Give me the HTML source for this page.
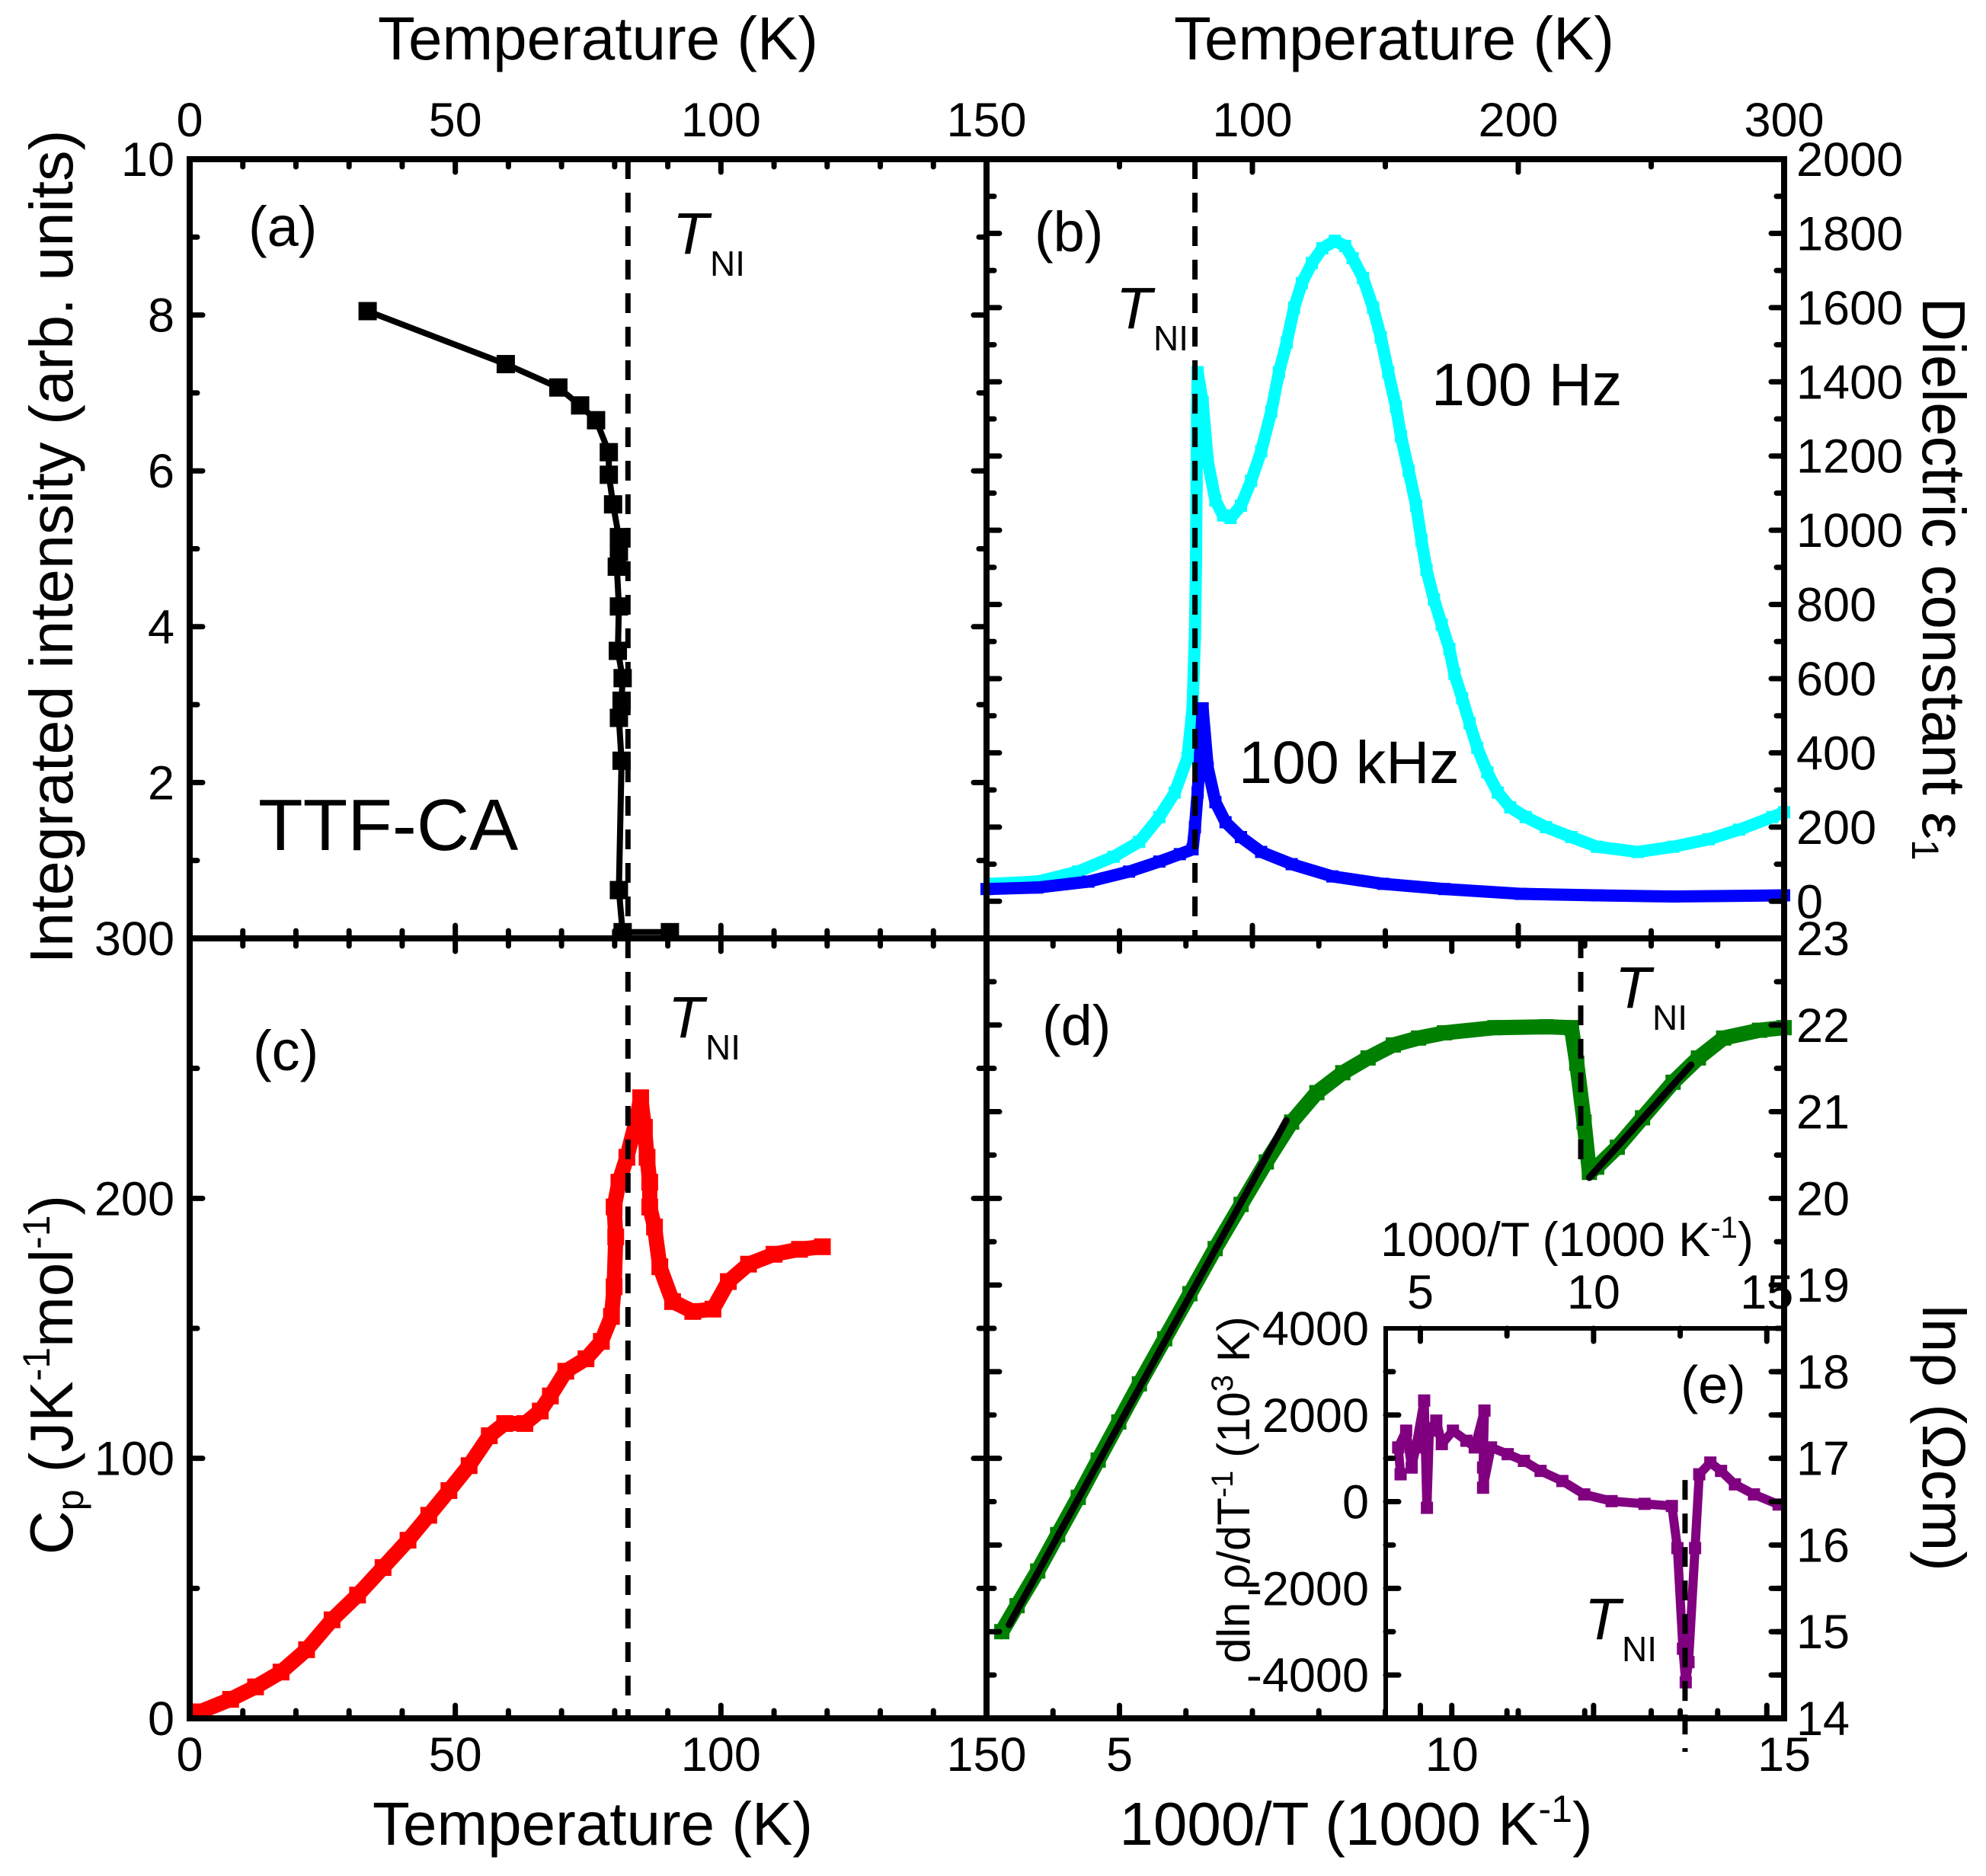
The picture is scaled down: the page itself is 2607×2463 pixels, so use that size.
<!DOCTYPE html>
<html><head><meta charset="utf-8"><style>
html,body{margin:0;padding:0;background:#fff}
svg{display:block}
text{font-family:"Liberation Sans",Arial,sans-serif;fill:#000}
</style></head><body>
<svg id="chart" xmlns="http://www.w3.org/2000/svg" width="2607" height="2463" viewBox="0 0 2607 2463">
<g id="marks"></g>
<g id="frames"></g>
<g id="labels"></g>
</svg>
<script>
// ---- Panel (a): integrated intensity vs T ----
const aT = [33.5,59.5,69.4,73.5,76.5,78.9,78.9,79.7,80.8,80.8,80.4,80.8,80.6,81.5,81.3,80.8,81.3,80.8,81.5,90.4];
const aI = [8.05,7.37,7.07,6.84,6.65,6.24,5.95,5.57,5.15,4.96,4.77,4.26,3.69,3.34,3.05,2.83,2.28,0.62,0.08,0.08];
// ---- Panel (b): dielectric constant vs T ----
const bHzT = [1.9,19.1,34.4,47.8,57.4,65,70.8,75.6,77.5,78.4,78.8,79,79.2,79.4,81.3,83.2,86.1,89,91.8,95.7,99.5,103.3,107.1,110,112.9,115.7,118.6,122.4,126.3,131,134.9,137.7,141.6,145.4,148.3,151.1,154,155.9,158.8,161.6,163.6,165.5,168.3,171.2,174.1,176,178.9,181.7,184.6,188.4,192.3,197,202.8,210.4,220,229.6,244.9,258.3,271.6,283.1,295.6,300];
const bHzE = [47,53,80,120,160,227,293,387,520,720,920,1120,1320,1426,1346,1186,1080,1040,1033,1066,1133,1213,1320,1426,1506,1600,1666,1720,1760,1780,1766,1733,1680,1600,1520,1426,1333,1253,1160,1066,973,893,813,746,680,613,547,480,413,347,293,253,227,200,173,147,133,147,167,193,227,240];
const bkHzT = [0,19.1,38.3,53.6,65,72.7,77.5,78.4,79.4,80.3,81.3,83.2,86.1,89.9,95.7,103.3,114.8,130.1,149.2,172.2,200.9,229.6,258.3,300];
const bkHzE = [33,37,53,80,107,127,140,200,293,387,520,360,267,213,173,133,100,67,47,33,20,16,13,16];
// ---- Panel (c): heat capacity ----
const cT = [1.9,7.7,12.4,17.2,22,26.8,31.6,36.4,41.1,45,48.8,52.6,56.4,59.3,63.1,66,67.9,70.8,74.6,77.5,79.4,79.9,80.2,79.9,80.8,82.3,84.2,84.9,85.6,86.1,86.6,86.6,87.5,88.5,90.9,94.7,98.5,101.4,105.2,110,114.8,119.1];
const cCp = [2.5,7.3,12.1,17.8,26.4,37.9,47.4,58,68.5,78.1,87.6,97.2,108.7,113.4,113.4,118.2,124,133.5,138.3,145,154.6,166,185.2,196.7,206.2,215.8,231.1,238.7,227.3,215.8,206.2,196.7,189,173.7,160.3,156.5,157.4,168,174.7,178.5,180.4,181.4];
// ---- Panel (d): ln rho vs 1000/T ----
const dX = [3.23,3.46,3.77,4.07,4.38,4.68,4.99,5.3,5.68,6.06,6.44,6.83,7.21,7.59,7.97,8.36,8.74,9.12,9.5,9.89,10.65,11.42,11.8,11.88,11.99,12.07,12.18,12.49,12.87,13.33,13.71,14.09,14.63,15];
const dLnRho = [15.0,15.3,15.7,16.12,16.55,16.98,17.42,17.86,18.38,18.9,19.42,19.93,20.42,20.88,21.22,21.45,21.62,21.77,21.85,21.91,21.97,21.98,21.97,21.56,20.88,20.3,20.36,20.59,20.93,21.34,21.62,21.85,21.94,21.97];
const dFit1X = [3.34,7.51], dFit1Y = [15.08,20.9];
const dFit2X = [12.07,13.6], dFit2Y = [20.24,21.54];
// ---- Panel (e): derivative inset ----
const eX = [4.43,4.36,4.59,4.75,4.87,5.11,5.19,5.26,5.46,5.62,5.94,6.33,6.57,6.85,6.81,6.81,7.04,7.52,7.99,8.47,9.1,9.73,10.52,11.47,12.26,12.42,12.58,12.66,12.74,12.93,13.05,13.37,13.68,14.08,14.63,15.34];
const eY = [632,1252,1639,787,1252,2335,-142,1639,1871,1329,1639,1406,1252,2103,787,322,1252,1097,942,710,477,168,13,-50,-100,-1071,-3394,-4168,-3703,-1071,632,903,710,400,168,-65];
// transition positions
const aTNI = 82.5, bTNI = 78.4, dTNI = 11.94, eTNI = 12.64;

const NS = "http://www.w3.org/2000/svg";
const marks = document.getElementById('marks');
const frames = document.getElementById('frames');
const labels = document.getElementById('labels');
function el(tag, attrs, parent){const e=document.createElementNS(NS,tag);for(const k in attrs)e.setAttribute(k,attrs[k]);parent.appendChild(e);return e;}
function lin(d0,d1,p0,p1){return v=>p0+(v-d0)*(p1-p0)/(d1-d0);}

const L=249,M=1295,R=2342,T=209,MY=1232,B=2256, IL=1819, IT=1744;
const ax = {
  a:{x:lin(0,150,L,M), y:lin(0,10,MY,T)},
  b:{x:lin(0,300,M,R), y:lin(-100,2000,MY,T)},
  c:{x:lin(0,150,L,M), y:lin(0,300,B,MY)},
  d:{x:lin(3,15,M,R), y:lin(14,23,B,MY)},
  e:{x:lin(4,15.5,IL,R), y:lin(-5000,4000,B,IT)}
};

function series(name, xs, ys, axis, color, lw, ms){
  const g = el('g',{},marks);
  
  
  let d='';
  for(let i=0;i<xs.length;i++){d+=(i?'L':'M')+axis.x(xs[i]).toFixed(1)+' '+axis.y(ys[i]).toFixed(1);}
  const p = el('path',{d:d,fill:'none',stroke:color,'stroke-width':lw,'stroke-linejoin':'round','stroke-linecap':'round'},g);
  
  
  for(let i=0;i<xs.length;i++){
    const r = el('rect',{x:axis.x(xs[i])-ms/2,y:axis.y(ys[i])-ms/2,width:ms,height:ms,fill:color},g);
    
    
  }
}
function fitLine(name, xs, ys, axis){
  const p = el('line',{x1:axis.x(xs[0]),y1:axis.y(ys[0]),x2:axis.x(xs[1]),y2:axis.y(ys[1]),stroke:'#000','stroke-width':9,'stroke-linecap':'round'},marks);
  
  
}
function vdash(name, x, y1, y2){
  const p = el('line',{x1:x,y1:y1,x2:x,y2:y2,stroke:'#000','stroke-width':7,'stroke-dasharray':'26 18'},marks);
  
  
}

series('series-a-intensity', aT, aI, ax.a, '#000', 8, 24);
series('series-b-100hz', bHzT, bHzE, ax.b, '#00ffff', 16, 16);
series('series-b-100khz', bkHzT, bkHzE, ax.b, '#0000ff', 16, 16);
series('series-c-cp', cT, cCp, ax.c, '#ff0000', 20, 22);
series('series-d-lnrho', dX, dLnRho, ax.d, '#008000', 20, 20);
fitLine('fit-line-d-1', dFit1X, dFit1Y, ax.d);
fitLine('fit-line-d-2', dFit2X, dFit2Y, ax.d);

vdash('tni-line-a', ax.a.x(aTNI), T, MY);
vdash('tni-line-c', ax.c.x(aTNI), MY, B);
vdash('tni-line-b', ax.b.x(bTNI), T, MY);
vdash('tni-line-d', ax.d.x(dTNI), MY, ax.d.y(20.3));

const inbg = el('rect',{x:IL,y:IT,width:R-IL,height:B-IT,fill:'#fff'},marks);


series('series-e-derivative', eX, eY, ax.e, '#800080', 12, 16);
vdash('tni-line-e', ax.e.x(eTNI), ax.e.y(500), 2300);

function rect(name,x,y,w,h,sw){const r=el('rect',{x:x,y:y,width:w,height:h,fill:'none',stroke:'#000','stroke-width':sw},frames);}
rect('frame-a',L,T,M-L,MY-T,8);
rect('frame-b',M,T,R-M,MY-T,8);
rect('frame-c',L,MY,M-L,B-MY,8);
rect('frame-d',M,MY,R-M,B-MY,8);
rect('frame-e',IL,IT,R-IL,B-IT,6);

function ticksX(axis, from, to, step, majorEvery, yEdges, dirs){
  for(let v=from; v<=to+1e-9; v+=step){
    const px=axis.x(v); const major = Math.abs(v/majorEvery-Math.round(v/majorEvery))<1e-6;
    const len = major?17:10;
    yEdges.forEach((y,i)=>{const t=el('line',{x1:px,y1:y,x2:px,y2:y+dirs[i]*len,stroke:'#000','stroke-width':7,'stroke-linecap':'round'},frames);});
  }
}
function ticksY(axis, from, to, step, majorEvery, xEdges, dirs){
  for(let v=from; v<=to+1e-9; v+=step){
    const py=axis.y(v); const major = Math.abs(v/majorEvery-Math.round(v/majorEvery))<1e-6;
    const len = major?17:10;
    xEdges.forEach((x,i)=>{const t=el('line',{x1:x,y1:py,x2:x+dirs[i]*len,y2:py,stroke:'#000','stroke-width':7,'stroke-linecap':'round'},frames);});
  }
}
ticksX(ax.a,10,140,10,50,[T,MY],[1,-1]);
ticksY(ax.a,1,9,1,2,[L,M],[1,-1]);
ticksX(ax.c,10,140,10,50,[MY,B],[1,-1]);
ticksY(ax.c,50,250,50,100,[L,M],[1,-1]);
ticksX(ax.b,50,250,50,100,[T,MY],[1,-1]);
ticksY(ax.b,0,1900,100,200,[M,R],[1,-1]);
ticksX(ax.d,4,14,1,5,[MY,B],[1,-1]);
ticksY(ax.d,14.5,22.5,0.5,1,[M,R],[1,-1]);
ticksX(ax.e,5,15,2.5,5,[IT,B],[1,-1]);
ticksY(ax.e,-4000,3000,1000,2000,[IL,R],[1,-1]);

function txt(name, s, x, y, size, anchor, extra){
  const t = el('text',Object.assign({x:x,y:y,'font-size':size,'text-anchor':anchor||'start'},extra||{}),labels);
  
  
  t.textContent = s;
  return t;
}
const FS=63;
const aXTicks=[0,50,100,150];
aXTicks.forEach(v=>txt('top-tick-label-a',String(v),ax.a.x(v),179,FS,'middle'));
aXTicks.forEach(v=>txt('bottom-tick-label-c',String(v),ax.c.x(v),2325,FS,'middle'));
const bXTicks=[100,200,300];
bXTicks.forEach(v=>txt('top-tick-label-b',String(v),ax.b.x(v),179,FS,'middle'));
const dXTicks=[5,10,15];
dXTicks.forEach(v=>txt('bottom-tick-label-d',String(v),ax.d.x(v),2325,FS,'middle'));
const aYTicks=[2,4,6,8,10];
aYTicks.forEach(v=>txt('y-tick-label-a',String(v),229,ax.a.y(v)+22,FS,'end'));
const cYTicks=[0,100,200,300];
cYTicks.forEach(v=>txt('y-tick-label-c',String(v),229,ax.c.y(v)+22,FS,'end'));
const bYTicks=[0,200,400,600,800,1000,1200,1400,1600,1800,2000];
bYTicks.forEach(v=>txt('y-tick-label-b',String(v),2358,ax.b.y(v)+22,FS,'start'));
const dYTicks=[14,15,16,17,18,19,20,21,22,23];
dYTicks.forEach(v=>txt('y-tick-label-d',String(v),2358,ax.d.y(v)+22,FS,'start'));
const eXTicks=[5,10,15];
eXTicks.forEach(v=>txt('inset-x-tick-label',String(v),ax.e.x(v),1718,FS,'middle'));
const eYTicks=[-4000,-2000,0,2000,4000];
eYTicks.forEach(v=>txt('inset-y-tick-label',String(v),1797,ax.e.y(v)+22,FS,'end'));

txt('top-x-title-a','Temperature (K)',785,78,80,'middle');
txt('top-x-title-b','Temperature (K)',1830,78,80,'middle');
txt('bottom-x-title-c','Temperature (K)',778,2422,80,'middle');
const bt = txt('bottom-x-title-d','1000/T (1000 K',1780,2422,80,'middle');
bt.innerHTML='1000/T (1000 K<tspan dy="-30" font-size="50">-1</tspan><tspan dy="30">)</tspan>';
txt('y-title-a','Integrated intensity (arb. units)',0,0,80,'middle',{transform:'translate(95,718) rotate(-90)',textLength:1095,lengthAdjust:'spacingAndGlyphs'});
const cpt = txt('y-title-c','',0,0,80,'middle',{transform:'translate(95,1805) rotate(-90)'});
cpt.innerHTML='C<tspan dy="14" font-size="50">p</tspan><tspan dy="-14"> (JK</tspan><tspan dy="-30" font-size="50">-1</tspan><tspan dy="30">mol</tspan><tspan dy="-30" font-size="50">-1</tspan><tspan dy="30">)</tspan>';
const dct = txt('y-title-b','',0,0,80,'middle',{transform:'translate(2524,760) rotate(90)'});
dct.innerHTML='Dielectric constant ε<tspan dy="14" font-size="50">1</tspan>';
txt('y-title-d','lnρ (Ωcm)',0,0,80,'middle',{transform:'translate(2524,1888) rotate(90)'});
const eit = txt('inset-x-title','',2057,1649,63,'middle');
eit.innerHTML='1000/T (1000 K<tspan dy="-24" font-size="40">-1</tspan><tspan dy="24">)</tspan>';
const eyt = txt('inset-y-title','',0,0,60,'middle',{transform:'translate(1640,1956) rotate(-90)'});
eyt.innerHTML='dln ρ/dT<tspan dy="-22" font-size="40">-1</tspan><tspan dy="22"> (10</tspan><tspan dy="-22" font-size="40">3</tspan><tspan dy="22"> K)</tspan>';

txt('panel-label-a','(a)',326,323,74);
txt('panel-label-b','(b)',1358,330,74);
txt('panel-label-c','(c)',332,1405,74);
txt('panel-label-d','(d)',1368,1372,74);
txt('panel-label-e','(e)',2206,1842,70);
txt('sample-label','TTF-CA',339,1116,96);
txt('freq-label-100hz','100 Hz',1879,532,79);
txt('freq-label-100khz','100 kHz',1626,1028,79);
function tni(name,x,y){
  const t=txt(name,'',x,y,77,'start');
  t.innerHTML='<tspan font-style="italic">T</tspan><tspan dx="2" dy="29" font-size="46">NI</tspan>';
}
tni('tni-label-a',883,333);
tni('tni-label-b',1465,431);
tni('tni-label-c',877,1362);
tni('tni-label-d',2120,1323);
tni('tni-label-e',2080,2152);
</script>
</body></html>
